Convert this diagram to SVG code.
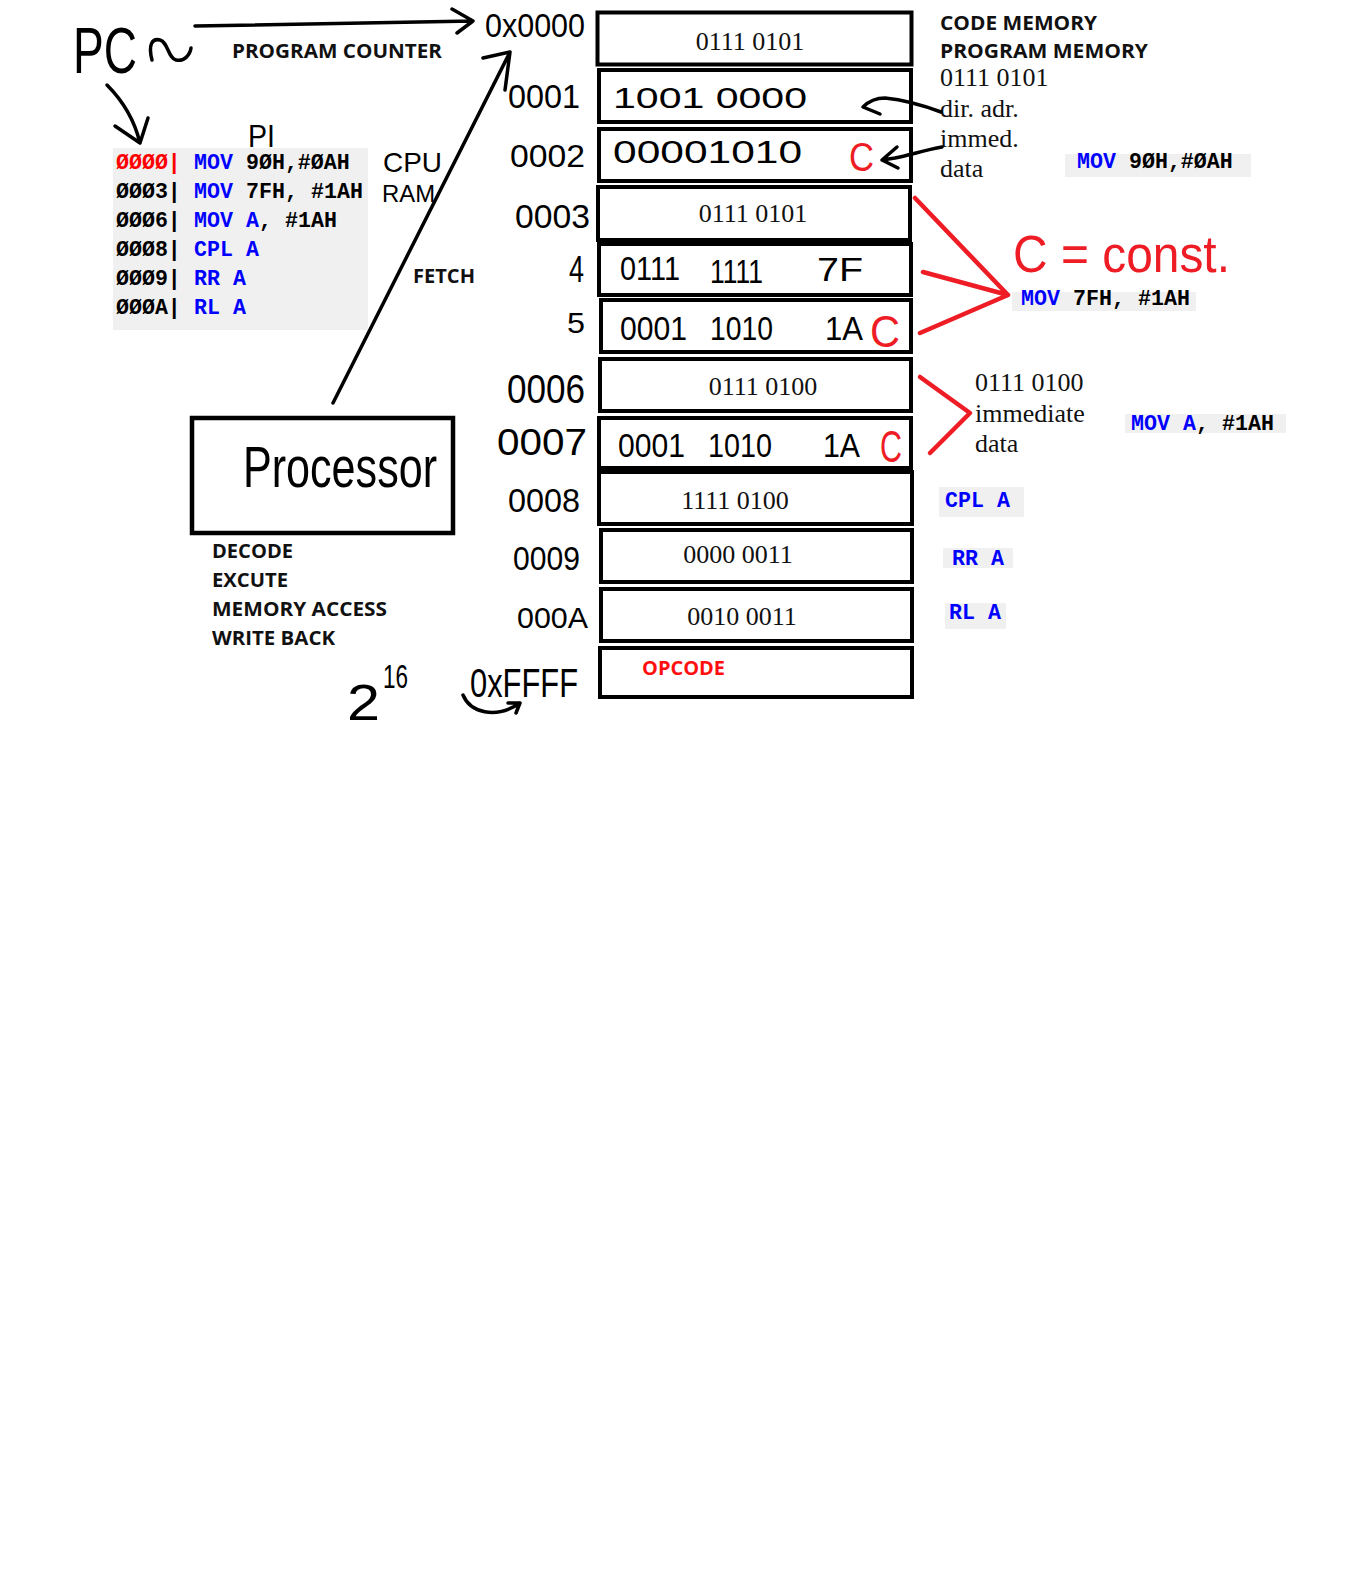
<svg xmlns="http://www.w3.org/2000/svg" width="1360" height="1593" viewBox="0 0 1360 1593">
<style>
.cell{fill:#fff;stroke:#000;stroke-width:4}
.serif{font-family:"Liberation Serif","Times New Roman",serif;font-size:26px;fill:#111}
.hand{font-family:"Liberation Sans",Arial,sans-serif;fill:#000}
.rh{fill:#ee1c24}
.lbl{font-family:"Open Sans","Liberation Sans",Arial,sans-serif;font-weight:700;font-size:19.5px;fill:#111}
.code{font-family:"Liberation Mono","Courier New",monospace;font-weight:700;font-size:21.6px;fill:#000}
.kw{fill:#0000ff}
.bg{fill:#f0f0f0}
.ink{fill:none;stroke:#000;stroke-width:3.5;stroke-linecap:round;stroke-linejoin:round}
.redink{fill:none;stroke:#ee1c24;stroke-width:4.5;stroke-linecap:round;stroke-linejoin:round}
</style>
<rect width="1360" height="1593" fill="#fff"/>

<g id="pc-label">
  <text class="hand" x="73" y="73" font-size="64" textLength="64" lengthAdjust="spacingAndGlyphs">PC</text>
  <path class="ink" d="M152,60 C148,45 152,38 160,40 C168,42 168,58 176,60 C184,62 190,55 191,48"/>
  <text class="lbl" x="232" y="58" textLength="210" lengthAdjust="spacingAndGlyphs">PROGRAM COUNTER</text>
</g>

<g id="code-listing">
  <rect class="bg" x="113" y="148" width="255" height="182"/>
  <text class="code" y="169"><tspan x="116" fill="#ff0000">ØØØØ|</tspan><tspan x="194" class="kw">MOV</tspan><tspan x="246">9ØH,#ØAH</tspan></text>
  <text class="code" y="198"><tspan x="116">ØØØ3|</tspan><tspan x="194" class="kw">MOV</tspan><tspan x="246">7FH,</tspan><tspan x="311">#1AH</tspan></text>
  <text class="code" y="227"><tspan x="116">ØØØ6|</tspan><tspan x="194" class="kw">MOV</tspan><tspan x="246" class="kw">A</tspan><tspan x="259">,</tspan><tspan x="285">#1AH</tspan></text>
  <text class="code" y="256"><tspan x="116">ØØØ8|</tspan><tspan x="194" class="kw">CPL</tspan><tspan x="246" class="kw">A</tspan></text>
  <text class="code" y="285"><tspan x="116">ØØØ9|</tspan><tspan x="194" class="kw">RR</tspan><tspan x="233" class="kw">A</tspan></text>
  <text class="code" y="314"><tspan x="116">ØØØA|</tspan><tspan x="194" class="kw">RL</tspan><tspan x="233" class="kw">A</tspan></text>
</g>

<g id="notes-left">
  <text class="hand" x="248" y="147" font-size="32" textLength="27" lengthAdjust="spacingAndGlyphs">PI</text>
  <text class="hand" x="383" y="172" font-size="28" textLength="59" lengthAdjust="spacingAndGlyphs">CPU</text>
  <text class="hand" x="382" y="202" font-size="24" textLength="53" lengthAdjust="spacingAndGlyphs">RAM</text>
  <text class="lbl" x="413" y="283" textLength="62" lengthAdjust="spacingAndGlyphs">FETCH</text>
</g>

<g id="processor">
  <rect x="192" y="418" width="261" height="115" fill="#fff" stroke="#000" stroke-width="4.5"/>
  <text class="hand" x="243" y="487" font-size="58" textLength="194" lengthAdjust="spacingAndGlyphs">Processor</text>
</g>

<g id="pipeline-stages">
  <text class="lbl" x="212" y="558" textLength="81" lengthAdjust="spacingAndGlyphs">DECODE</text>
  <text class="lbl" x="212" y="587" textLength="76" lengthAdjust="spacingAndGlyphs">EXCUTE</text>
  <text class="lbl" x="212" y="616" textLength="175" lengthAdjust="spacingAndGlyphs">MEMORY ACCESS</text>
  <text class="lbl" x="212" y="645" textLength="123" lengthAdjust="spacingAndGlyphs">WRITE BACK</text>
</g>

<g id="size-note">
  <text class="hand" x="347" y="720" font-size="50" textLength="33" lengthAdjust="spacingAndGlyphs">2</text>
  <text class="hand" x="383" y="688" font-size="34" textLength="25" lengthAdjust="spacingAndGlyphs">16</text>
</g>

<g id="addresses">
  <text class="hand" x="485" y="37" font-size="34" textLength="100" lengthAdjust="spacingAndGlyphs">0x0000</text>
  <text class="hand" x="508" y="108" font-size="34" textLength="72" lengthAdjust="spacingAndGlyphs">0001</text>
  <text class="hand" x="510" y="167" font-size="31" textLength="75" lengthAdjust="spacingAndGlyphs">0002</text>
  <text class="hand" x="515" y="228" font-size="34" textLength="75" lengthAdjust="spacingAndGlyphs">0003</text>
  <text class="hand" x="569" y="282" font-size="36" textLength="15" lengthAdjust="spacingAndGlyphs">4</text>
  <text class="hand" x="567" y="333" font-size="30" textLength="18" lengthAdjust="spacingAndGlyphs">5</text>
  <text class="hand" x="507" y="403" font-size="40" textLength="78" lengthAdjust="spacingAndGlyphs">0006</text>
  <text class="hand" x="497" y="455" font-size="36" textLength="90" lengthAdjust="spacingAndGlyphs">0007</text>
  <text class="hand" x="508" y="512" font-size="34" textLength="72" lengthAdjust="spacingAndGlyphs">0008</text>
  <text class="hand" x="513" y="570" font-size="34" textLength="67" lengthAdjust="spacingAndGlyphs">0009</text>
  <text class="hand" x="517" y="628" font-size="30" textLength="71" lengthAdjust="spacingAndGlyphs">000A</text>
  <text class="hand" x="470" y="697" font-size="40" textLength="108" lengthAdjust="spacingAndGlyphs">0xFFFF</text>
</g>

<g id="cell-0000">
  <rect class="cell" x="597.5" y="12.5" width="314" height="52" stroke-width="5"/>
  <text class="serif" x="750" y="50" text-anchor="middle">0111 0101</text>
</g>
<g id="cell-0001">
  <rect class="cell" x="599" y="70" width="312" height="52"/>
  <text class="hand" x="613" y="108" font-size="30" textLength="194" lengthAdjust="spacingAndGlyphs">1001 0000</text>
</g>
<g id="cell-0002">
  <rect class="cell" x="599" y="129" width="312" height="52"/>
  <text class="hand" x="613" y="163" font-size="32" textLength="189" lengthAdjust="spacingAndGlyphs">00001010</text>
  <text class="hand rh" x="849" y="171" font-size="40" textLength="25" lengthAdjust="spacingAndGlyphs">C</text>
</g>
<g id="cell-0003">
  <rect class="cell" x="598" y="187" width="312" height="53"/>
  <text class="serif" x="753" y="222" text-anchor="middle">0111 0101</text>
</g>
<g id="cell-0004">
  <rect class="cell" x="599" y="244" width="312" height="51"/>
  <text class="hand" x="620" y="280" font-size="34" textLength="60" lengthAdjust="spacingAndGlyphs">0111</text>
  <text class="hand" x="710" y="283" font-size="34" textLength="53" lengthAdjust="spacingAndGlyphs">1111</text>
  <text class="hand" x="817" y="281" font-size="34" textLength="46" lengthAdjust="spacingAndGlyphs">7F</text>
</g>
<g id="cell-0005">
  <rect class="cell" x="601" y="300" width="310" height="52"/>
  <text class="hand" x="620" y="340" font-size="34" textLength="67" lengthAdjust="spacingAndGlyphs">0001</text>
  <text class="hand" x="710" y="340" font-size="34" textLength="63" lengthAdjust="spacingAndGlyphs">1010</text>
  <text class="hand" x="825" y="340" font-size="34" textLength="38" lengthAdjust="spacingAndGlyphs">1A</text>
  <text class="hand rh" x="870" y="347" font-size="44" textLength="30" lengthAdjust="spacingAndGlyphs">C</text>
</g>
<g id="cell-0006">
  <rect class="cell" x="600" y="359" width="311" height="52"/>
  <text class="serif" x="763" y="395" text-anchor="middle">0111 0100</text>
</g>
<g id="cell-0007">
  <rect class="cell" x="599" y="418" width="312" height="50"/>
  <text class="hand" x="618" y="457" font-size="34" textLength="67" lengthAdjust="spacingAndGlyphs">0001</text>
  <text class="hand" x="708" y="457" font-size="34" textLength="64" lengthAdjust="spacingAndGlyphs">1010</text>
  <text class="hand" x="823" y="457" font-size="34" textLength="37" lengthAdjust="spacingAndGlyphs">1A</text>
  <text class="hand rh" x="880" y="462" font-size="44" textLength="22" lengthAdjust="spacingAndGlyphs">C</text>
</g>
<g id="cell-0008">
  <rect class="cell" x="599" y="472" width="313" height="52"/>
  <text class="serif" x="735" y="509" text-anchor="middle">1111 0100</text>
</g>
<g id="cell-0009">
  <rect class="cell" x="601" y="530" width="311" height="52"/>
  <text class="serif" x="738" y="563" text-anchor="middle">0000 0011</text>
</g>
<g id="cell-000A">
  <rect class="cell" x="601" y="589" width="311" height="52"/>
  <text class="serif" x="742" y="625" text-anchor="middle">0010 0011</text>
</g>
<g id="cell-FFFF">
  <rect class="cell" x="600" y="648" width="312" height="49"/>
  <text class="lbl" x="642" y="675" style="fill:#ff1010" textLength="83" lengthAdjust="spacingAndGlyphs">OPCODE</text>
</g>

<g id="notes-right">
  <text class="lbl" x="940" y="30" textLength="157" lengthAdjust="spacingAndGlyphs">CODE MEMORY</text>
  <text class="lbl" x="940" y="58" textLength="208" lengthAdjust="spacingAndGlyphs">PROGRAM MEMORY</text>
  <text class="serif" x="940" y="86">0111 0101</text>
  <text class="serif" x="940" y="117">dir. adr.</text>
  <text class="serif" x="940" y="147">immed.</text>
  <text class="serif" x="940" y="177">data</text>
  <rect class="bg" x="1065" y="154" width="186" height="23"/>
  <text class="code" y="168"><tspan x="1077" class="kw">MOV</tspan><tspan x="1129">9ØH,#ØAH</tspan></text>

  <text class="hand rh" x="1013" y="272" font-size="52" textLength="217" lengthAdjust="spacingAndGlyphs">C = const.</text>
  <rect class="bg" x="1012" y="292" width="184" height="19"/>
  <text class="code" y="305"><tspan x="1021" class="kw">MOV</tspan><tspan x="1073">7FH,</tspan><tspan x="1138">#1AH</tspan></text>

  <text class="serif" x="975" y="391">0111 0100</text>
  <text class="serif" x="975" y="422">immediate</text>
  <text class="serif" x="975" y="452">data</text>
  <rect class="bg" x="1125" y="414" width="161" height="19"/>
  <text class="code" y="430"><tspan x="1131" class="kw">MOV</tspan><tspan x="1183" class="kw">A</tspan><tspan x="1196">,</tspan><tspan x="1222">#1AH</tspan></text>

  <rect class="bg" x="939" y="487" width="85" height="30"/>
  <text class="code" y="507"><tspan x="945" class="kw">CPL</tspan><tspan x="997" class="kw">A</tspan></text>
  <rect class="bg" x="943" y="548" width="70" height="20"/>
  <text class="code" y="565"><tspan x="952" class="kw">RR</tspan><tspan x="991" class="kw">A</tspan></text>
  <rect class="bg" x="945" y="603" width="61" height="26"/>
  <text class="code" y="619"><tspan x="949" class="kw">RL</tspan><tspan x="988" class="kw">A</tspan></text>
</g>

<g id="connectors">
  <path class="ink" d="M195,26 L473,21 M452,9 L473,21 L457,33"/>
  <path class="ink" d="M107,85 Q132,110 140,143 M115,126 L140,143 L148,118"/>
  <path class="ink" d="M333,403 L510,52 M483,58 L510,52 L505,90"/>
  <path class="ink" d="M941,112 C925,106 905,100 885,98 C875,98 868,102 863,107 L880,114"/>
  <path class="ink" d="M942,147 C925,150 910,155 895,158 L882,160 M897,147 L882,160 L898,168"/>
  <path class="ink" d="M463,695 C470,712 495,720 520,703 M508,703 L520,703 L516,713"/>
  <path class="redink" d="M915,198 L1008,295 M923,272 L1008,295 M920,333 L1008,295"/>
  <path class="redink" d="M920,377 L970,413 L930,453"/>
</g>
</svg>
